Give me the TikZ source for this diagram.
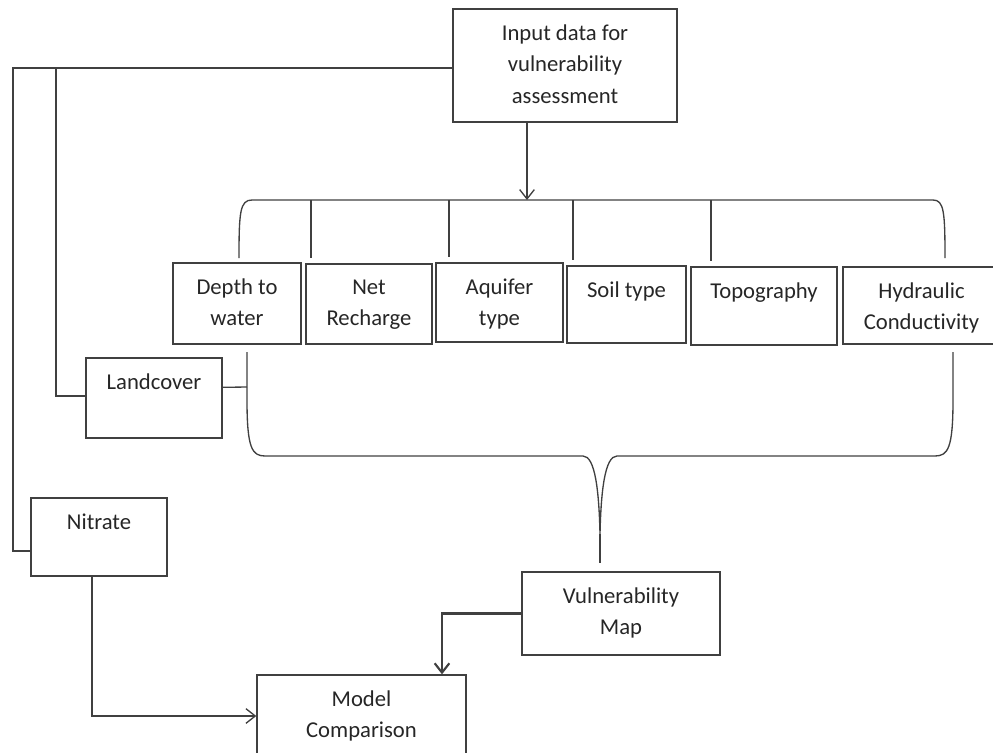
\documentclass[tikz,border=0pt]{standalone}
\usepackage{fontspec}
\setmainfont{Carlito}[Ligatures={NoCommon}]
\usetikzlibrary{arrows.meta, positioning, calc, fit}
\tikzstyle{box} = [rectangle, draw=black!75, line width=1pt, inner sep=0pt]
\tikzstyle{boxtext} = [align=center, anchor=north, inner sep=0pt, text=black!85, font=\fontsize{17}{23.5}\selectfont]
\tikzstyle{line} = [draw=black!75, line width=1pt]
\tikzstyle{arrow} = [line, -{Straight Barb[length=7pt,width=11pt]}]

\begin{document}
\begin{tikzpicture}[x=0.75pt, y=-0.75pt]
    \useasboundingbox (0,0) rectangle (993,753);

    % Input box
    \node[box, fit={(453,9) (677,122)}] (inp) {};
    \node[boxtext] (inptxt) at ([yshift=-12pt]inp.north) {Input data for\\vulnerability\\assessment};

    % Parameter boxes
    \node[box, fit={(173,263) (301,344)}] (dtw) {};
    \node[boxtext] (dtwtxt) at ([yshift=-12pt]dtw.north) {Depth to\\water};
    \node[box, fit={(306,264) (432,344)}] (nrc) {};
    \node[boxtext] (nrctxt) at ([yshift=-12pt]nrc.north) {Net\\Recharge};
    \node[box, fit={(436,263) (563,342)}] (aqf) {};
    \node[boxtext] (aqftxt) at ([yshift=-12pt]aqf.north) {Aquifer\\type};
    \node[box, fit={(567,266) (686,343)}] (soil) {};
    \node[boxtext] (soiltxt) at ([yshift=-12pt]soil.north) {Soil type};
    \node[box, fit={(691,267) (837,345)}] (topo) {};
    \node[boxtext] (topotxt) at ([yshift=-12pt]topo.north) {Topography};
    \node[box, fit={(843,267) (1000,344)}] (hyd) {};
    \node[boxtext] (hydtxt) at ([yshift=-12pt]hyd.north) {Hydraulic\\Conductivity};

    % Extra inputs
    \node[box, fit={(86,358) (222,438)}] (lnd) {};
    \node[boxtext] (lndtxt) at ([yshift=-12pt]lnd.north) {Landcover};
    \node[box, fit={(31,498) (167,576)}] (nit) {};
    \node[boxtext] (nittxt) at ([yshift=-12pt]nit.north) {Nitrate};

    % Outputs
    \node[box, fit={(522,572) (720,655)}] (vul) {};
    \node[boxtext] (vultxt) at ([yshift=-12pt]vul.north) {Vulnerability\\Map};
    \node[box, fit={(257,675) (466,757)}] (mdl) {};
    \node[boxtext] (mdltxt) at ([yshift=-12pt]mdl.north) {Model\\Comparison};

    % Top bracket
    \coordinate (brtop) at (527,200);
    \draw[arrow] (inp.south -| brtop) -- (brtop);
    \draw[line] (239,258) .. controls (239,212) and (240,200) .. (252,200) -- (933,200) .. controls (944,200) and (945,212) .. (945,258);
    \draw[line, shorten >=4pt] (311,200) -- (nrc.north -| 311,0);
    \draw[line, shorten >=4pt] (449,200) -- (aqf.north -| 449,0);
    \draw[line, shorten >=4pt] (573,200) -- (soil.north -| 573,0);
    \draw[line, shorten >=4pt] (711,200) -- (topo.north -| 711,0);

    % Bottom bracket
    \coordinate (brleft) at (247,387);
    \coordinate (brtip) at (600,534);
    \draw[line] (247,352) -- (247,400) .. controls (247,448) and (252,456) .. (265,456) -- (583,456) .. controls (595,456) and (599,490) .. (brtip) .. controls (601,490) and (605,456) .. (617,456) -- (935,456) .. controls (948,456) and (953,448) .. (953,400) -- (953,352);
    \draw[line, shorten >=6pt] (brtip) -- (vul.north -| brtip);

    % Side lines
    \draw[line] (inp.west |- 0,68) -- (13,68) |- ([yshift=-10.5pt]nit.west);
    \draw[line] (56,68) |- ([yshift=1.5pt]lnd.west);
    \draw[line] ([yshift=8pt]lnd.east) -- (brleft);

    % Comparison arrows
    \draw[arrow] (nit.south -| 92,0) |- (mdl.west);
    \draw[arrow, line width=1.6pt] (vul.west) -| (mdl.north -| 442,0);
\end{tikzpicture}
\end{document}
